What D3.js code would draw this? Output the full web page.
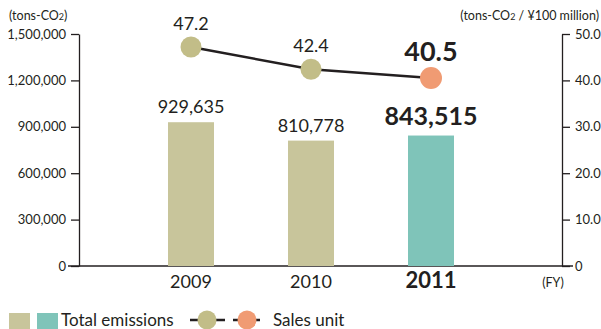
<!DOCTYPE html>
<html>
<head>
<meta charset="utf-8">
<script src="https://cdn.jsdelivr.net/npm/d3@7"></script>
<style>
  html, body { margin: 0; padding: 0; background: #fff; }
  svg { display: block; font-family: Lato, "Open Sans", sans-serif; }
</style>
</head>
<body>
<svg id="chart" width="601" height="329"></svg>
<script>
// Fiscal years and CO2 figures
const years = ["2009", "2010", "2011"];
const totalEmissions = [929635, 810778, 843515];   // tons-CO2
const salesUnit = [47.2, 42.4, 40.5];             // tons-CO2 / ¥100 million
const leftTicks = [0, 300000, 600000, 900000, 1200000, 1500000];
const rightTicks = [0, 10, 20, 30, 40, 50];

const svg = d3.select("#chart");
const ink = "#231f20";
const khaki = "#c8c59b";
const khakiDot = "#c2bd88";
const teal = "#7fc4b9";
const orange = "#f09b73";

const plotTop = 34, plotBottom = 266, leftX = 79, rightX = 562;

const x = d3.scalePoint().domain(years).range([191, 431]);
const yL = d3.scaleLinear().domain([0, 1500000]).range([plotBottom, plotTop]);
const yR = d3.scaleLinear().domain([0, 50]).range([plotBottom, plotTop]);
const barW = 46;
const latest = years.length - 1;

// Axes
const axL = svg.append("g").attr("transform", `translate(${leftX},0)`)
  .call(d3.axisLeft(yL).tickValues(leftTicks).tickSize(8).tickSizeOuter(0)
    .tickPadding(5).tickFormat(d3.format(",")));
const axR = svg.append("g").attr("transform", `translate(${rightX},0)`)
  .call(d3.axisRight(yR).tickValues(rightTicks).tickSize(8).tickSizeOuter(0)
    .tickPadding(5).tickFormat(d => d === 0 ? "0" : d3.format(".1f")(d)));
[axL, axR].forEach(a => {
  a.selectAll("path, line").attr("stroke", ink).attr("stroke-width", 1.3);
  a.selectAll("text").attr("fill", ink).attr("font-size", 13).attr("font-family", "Lato, sans-serif");
});

// Baseline
svg.append("line").attr("x1", 68).attr("x2", 573)
  .attr("y1", yL(0)).attr("y2", yL(0))
  .attr("stroke", ink).attr("stroke-width", 1.3);

// Unit titles
const unitL = svg.append("text").attr("x", 9).attr("y", 20)
  .attr("font-size", 12.5).attr("fill", ink);
unitL.append("tspan").text("(tons-CO");
unitL.append("tspan").attr("font-size", 9).text("2");
unitL.append("tspan").text(")");

const unitR = svg.append("text").attr("x", 599).attr("y", 20)
  .attr("text-anchor", "end").attr("font-size", 12.5).attr("fill", ink);
unitR.append("tspan").text("(tons-CO");
unitR.append("tspan").attr("font-size", 9).text("2");
unitR.append("tspan").text(" / ¥100 million)");

// Bars
svg.append("g").selectAll("rect").data(totalEmissions).join("rect")
  .attr("x", (d, i) => x(years[i]) - barW / 2)
  .attr("width", barW)
  .attr("y", d => yL(d))
  .attr("height", d => yL(0) - yL(d))
  .attr("fill", (d, i) => i === latest ? teal : khaki);

// Bar value labels
svg.append("g").selectAll("text").data(totalEmissions).join("text")
  .attr("x", (d, i) => x(years[i]))
  .attr("y", (d, i) => yL(d) - (i === latest ? 11 : 9))
  .attr("text-anchor", "middle")
  .attr("font-size", (d, i) => i === latest ? 25 : 18)
  .attr("font-weight", (d, i) => i === latest ? 700 : 400)
  .attr("fill", ink)
  .text(d => d3.format(",")(d));

// Sales unit line
svg.append("path").datum(salesUnit)
  .attr("d", d3.line().x((d, i) => x(years[i])).y(d => yR(d)))
  .attr("fill", "none").attr("stroke", ink).attr("stroke-width", 2.5);

svg.append("g").selectAll("circle").data(salesUnit).join("circle")
  .attr("cx", (d, i) => x(years[i]))
  .attr("cy", d => yR(d))
  .attr("r", (d, i) => i === latest ? 11 : 10.5)
  .attr("fill", (d, i) => i === latest ? orange : khakiDot);

svg.append("g").selectAll("text").data(salesUnit).join("text")
  .attr("x", (d, i) => x(years[i]))
  .attr("y", (d, i) => yR(d) - 17)
  .attr("text-anchor", "middle")
  .attr("font-size", (d, i) => i === latest ? 27 : 18)
  .attr("font-weight", (d, i) => i === latest ? 700 : 400)
  .attr("fill", ink)
  .text(d => d3.format(".1f")(d));

// Year labels
svg.append("g").selectAll("text").data(years).join("text")
  .attr("x", d => x(d))
  .attr("y", 288)
  .attr("text-anchor", "middle")
  .attr("font-size", (d, i) => i === latest ? 22 : 18)
  .attr("font-weight", (d, i) => i === latest ? 700 : 400)
  .attr("fill", ink)
  .text(d => d);

svg.append("text").attr("x", 553).attr("y", 287).attr("text-anchor", "middle")
  .attr("font-size", 12.5).attr("fill", ink).text("(FY)");

// Legend
const lg = svg.append("g");
lg.append("rect").attr("x", 9).attr("y", 313).attr("width", 21).attr("height", 16).attr("fill", khaki);
lg.append("rect").attr("x", 37).attr("y", 313).attr("width", 21).attr("height", 16).attr("fill", teal);
lg.append("text").attr("x", 61).attr("y", 326).attr("font-size", 17).attr("fill", ink).text("Total emissions");
[[190, 225, 207, khakiDot], [233, 260, 247, orange]].forEach(([a, b, c, col]) => {
  lg.append("line").attr("x1", a).attr("x2", b).attr("y1", 320).attr("y2", 320)
    .attr("stroke", ink).attr("stroke-width", 2.5);
  lg.append("circle").attr("cx", c).attr("cy", 320).attr("r", 9.5).attr("fill", col);
});
lg.append("text").attr("x", 273).attr("y", 326).attr("font-size", 17).attr("fill", ink).text("Sales unit");
</script>
</body>
</html>
